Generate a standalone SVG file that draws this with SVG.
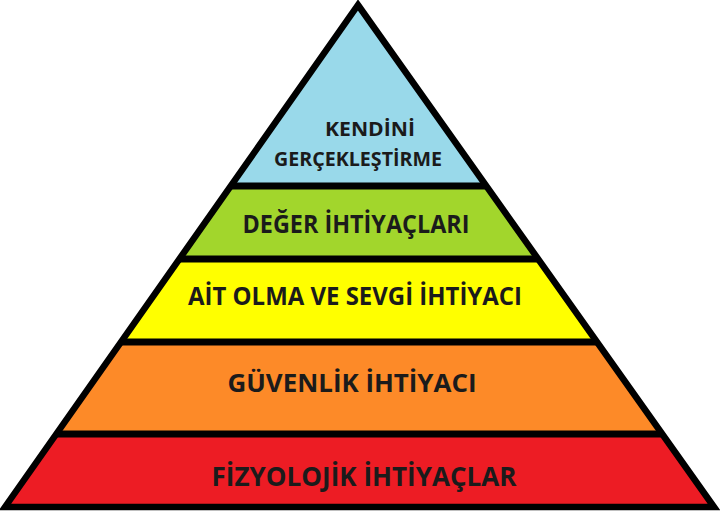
<svg xmlns="http://www.w3.org/2000/svg" width="720" height="514" viewBox="0 0 720 514">
<style>
.lbl{font-family:"Open Sans","Liberation Sans",sans-serif;font-weight:bold;fill:#1b1b1b;text-anchor:middle}
.div{stroke:#000;stroke-width:7;fill:none}
.outline{stroke:#000;stroke-width:6.5;fill:none;stroke-linejoin:miter;stroke-miterlimit:20}
</style>
<rect width="720" height="514" fill="#fff"/>
<g id="kendini">
<polygon points="358,5 486.4,186 230.7,186" fill="#99d9ea"/>
<text class="lbl" x="370" y="136" font-size="20" textLength="90" lengthAdjust="spacingAndGlyphs">KENDİNİ</text>
<text class="lbl" x="358" y="166" font-size="20" textLength="168" lengthAdjust="spacingAndGlyphs">GERÇEKLEŞTİRME</text>
</g>
<g id="deger">
<polygon points="230.7,186 486.4,186 538.1,259 179.4,259" fill="#a2d62c"/>
<text class="lbl" x="356" y="233" font-size="25" textLength="227" lengthAdjust="spacingAndGlyphs">DEĞER İHTİYAÇLARI</text>
</g>
<g id="ait">
<polygon points="179.4,259 538.1,259 597,342 121,342" fill="#ffff00"/>
<text class="lbl" x="355" y="305" font-size="25" textLength="334" lengthAdjust="spacingAndGlyphs">AİT OLMA VE SEVGİ İHTİYACI</text>
</g>
<g id="guvenlik">
<polygon points="121,342 597,342 662.2,434 56.3,434" fill="#fd8a28"/>
<text class="lbl" x="352" y="392" font-size="25" textLength="249" lengthAdjust="spacingAndGlyphs">GÜVENLİK İHTİYACI</text>
</g>
<g id="fizyolojik">
<polygon points="56.3,434 662.2,434 714,507 5,507" fill="#ed1c24"/>
<text class="lbl" x="364" y="486" font-size="26" textLength="305" lengthAdjust="spacingAndGlyphs">FİZYOLOJİK İHTİYAÇLAR</text>
</g>
<g id="connectors">
<line class="div" x1="230.7" y1="186" x2="486.4" y2="186"/>
<line class="div" x1="179.4" y1="259" x2="538.1" y2="259"/>
<line class="div" x1="121" y1="342" x2="597" y2="342"/>
<line class="div" x1="56.3" y1="434" x2="662.2" y2="434"/>
<polygon class="outline" points="358,5 714,507 5,507"/>
</g>
</svg>
